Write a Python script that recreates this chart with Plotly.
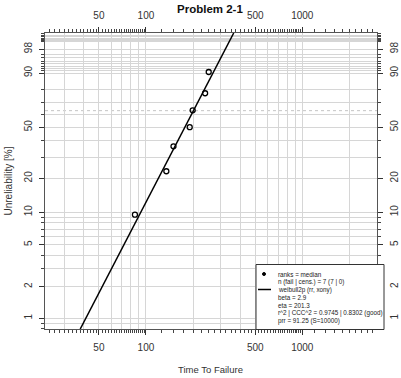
import numpy as np
import plotly.graph_objects as go

# ---------------- data ----------------
title = "Problem 2-1"
fail_time = [85, 135, 150, 190.5, 199, 239, 252]
median_rank_pct = [9.5, 23.0, 36.5, 50.0, 63.5, 77.0, 90.5]
beta = 2.9
eta = 201.3
ref_pct = 63.21  # characteristic-life reference line

x_lim = [22.6, 3006]
y_lim_pct = [0.79, 99.625]

x_tick_vals = [50, 100, 500, 1000]
x_tick_text = ["50", "100", "500", "1000"]
x_grid_vals = [30, 40, 50, 60, 70, 80, 90, 100, 200, 300, 400, 500, 600, 700, 800, 900, 1000, 2000]
x_minor_ticks = (list(range(24, 50, 2)) + [52.5 + 2.5 * i for i in range(19)] +
                 list(range(125, 500, 25)) + list(range(525, 1000, 25)) + list(range(1200, 3000, 200)))

y_tick_pct = [1, 2, 5, 10, 20, 50, 90, 98]
y_tick_text = ["1", "2", "5", "10", "20", "50", "90", "98"]
y_grid_pct = ([0.8, 0.9] + list(range(1, 10)) + list(range(10, 100, 10)) + list(range(91, 100)) +
              [99.1, 99.2, 99.3, 99.4, 99.5, 99.6, 99.7, 99.8, 99.9])

legend_lines = [
    "ranks = median",
    "n (fail | cens.) = 7 (7 | 0)",
    "weibull2p (rr, xony)",
    "beta = 2.9",
    "eta = 201.3",
    "r^2 | CCC^2 = 0.9745 | 0.8302 (good)",
    "prr = 91.25 (S=10000)",
]
x_title = "Time To Failure"
y_title = "Unreliability [%]"


def wb(p):
    return np.log(-np.log(1 - np.asarray(p, dtype=float) / 100.0))


# ---------------- geometry helpers (layout only) ----------------
W, H = 401, 378
ML, MR, MT, MB = 45, 24, 33, 49
PW, PH = W - ML - MR, H - MT - MB


def px(xp):
    return (xp - ML) / PW


def py(yp):
    return (H - MB - yp) / PH


FONT = "Liberation Sans, Arial, sans-serif"
TXT = "#333333"
GRID = "#d6d6d6"

# fitted line from beta / eta across the y-range
line_pct = np.array(y_lim_pct)
line_t = eta * (-np.log(1 - line_pct / 100.0)) ** (1.0 / beta)

fig = go.Figure()
fig.add_trace(go.Scatter(x=line_t, y=wb(line_pct), mode="lines",
                         line=dict(color="black", width=1.5), hoverinfo="skip"))
fig.add_trace(go.Scatter(x=fail_time, y=wb(median_rank_pct), mode="markers",
                         marker=dict(symbol="circle-open", size=5, color="black",
                                     line=dict(width=1.3, color="black")), hoverinfo="skip"))
# dummy traces for overlay axes
fig.add_trace(go.Scatter(x=[None], y=[None], xaxis="x2", yaxis="y2", hoverinfo="skip"))
fig.add_trace(go.Scatter(x=[None], y=[None], xaxis="x3", yaxis="y3", hoverinfo="skip"))

xr = [np.log10(x_lim[0]), np.log10(x_lim[1])]
yr = list(wb(y_lim_pct))

tickfont = dict(family=FONT, size=10, color=TXT)

fig.update_layout(
    width=W, height=H, autosize=False,
    margin=dict(l=ML, r=MR, t=MT, b=MB, pad=0, autoexpand=False),
    paper_bgcolor="white", plot_bgcolor="white",
    showlegend=False,
    xaxis=dict(type="log", range=xr, tickmode="array", tickvals=x_grid_vals, automargin=False,
               showticklabels=False, ticks="", showgrid=True, gridcolor=GRID, gridwidth=1,
               showline=True, linecolor="#555555", linewidth=1, mirror=True, zeroline=False),
    yaxis=dict(range=yr, tickmode="array", tickvals=list(wb(y_grid_pct)), automargin=False,
               showticklabels=False, ticks="", showgrid=True, gridcolor=GRID, gridwidth=1,
               showline=True, linecolor="#555555", linewidth=1, mirror=True, zeroline=False),
    xaxis2=dict(type="log", range=xr, overlaying="x", anchor="y", side="bottom", automargin=False,
                tickmode="array", tickvals=x_tick_vals, ticktext=x_tick_text,
                ticks="outside", ticklen=5, tickcolor="#333333", tickwidth=1,
                showgrid=False, showline=False, zeroline=False, tickfont=tickfont,
                ticklabelstandoff=4,
                minor=dict(tickmode="array", tickvals=x_minor_ticks, ticks="outside",
                           ticklen=3, tickcolor="#444444", showgrid=False)),
    xaxis3=dict(type="log", range=xr, overlaying="x", anchor="y", side="top", automargin=False,
                tickmode="array", tickvals=x_tick_vals, ticktext=x_tick_text,
                ticks="outside", ticklen=5, tickcolor="#333333", tickwidth=1,
                showgrid=False, showline=False, zeroline=False, tickfont=tickfont,
                ticklabelstandoff=4,
                minor=dict(tickmode="array", tickvals=x_minor_ticks, ticks="outside",
                           ticklen=3, tickcolor="#444444", showgrid=False)),
    yaxis2=dict(range=yr, overlaying="y", anchor="x", side="left", automargin=False,
                tickmode="array", tickvals=list(wb(y_tick_pct)), ticktext=y_tick_text,
                ticks="outside", ticklen=5, tickcolor="#333333", tickwidth=1, tickangle=-90,
                showgrid=False, showline=False, zeroline=False, tickfont=tickfont,
                ticklabelstandoff=3,
                minor=dict(tickmode="array", tickvals=list(wb(y_grid_pct)), ticks="outside",
                           ticklen=3, tickcolor="#444444", showgrid=False)),
    yaxis3=dict(range=yr, overlaying="y", anchor="x", side="right", automargin=False,
                tickmode="array", tickvals=list(wb(y_tick_pct)), ticktext=y_tick_text,
                ticks="outside", ticklen=5, tickcolor="#333333", tickwidth=1, tickangle=-90,
                showgrid=False, showline=False, zeroline=False, tickfont=tickfont,
                ticklabelstandoff=3,
                minor=dict(tickmode="array", tickvals=list(wb(y_grid_pct)), ticks="outside",
                           ticklen=3, tickcolor="#444444", showgrid=False)),
)

shapes = [
    dict(type="line", xref="paper", yref="y", x0=0, x1=1, y0=float(wb(ref_pct)), y1=float(wb(ref_pct)),
         line=dict(color="#c4c4c4", width=1, dash="dot"), layer="below"),
    # legend box
    dict(type="rect", xref="paper", yref="paper", x0=px(256), x1=px(384), y0=py(329.5), y1=py(264.5),
         fillcolor="white", line=dict(color="#333333", width=1), layer="above"),
    dict(type="circle", xref="paper", yref="paper", x0=px(262.5), x1=px(265.5), y0=py(275.5), y1=py(272.5),
         fillcolor="black", line=dict(color="black", width=1), layer="above"),
    dict(type="line", xref="paper", yref="paper", x0=px(258), x1=px(271), y0=py(289.5), y1=py(289.5),
         line=dict(color="black", width=1.5), layer="above"),
]
fig.update_layout(shapes=shapes)

ann = []
line_y = [274, 281.8, 289.6, 297.5, 305.4, 313.3, 321.2]
for txt, yy in zip(legend_lines, line_y):
    ann.append(dict(text=txt, xref="paper", yref="paper", x=px(276), y=py(yy),
                    xanchor="left", yanchor="middle", showarrow=False,
                    font=dict(family=FONT, size=6.3, color="#222222")))
ann.append(dict(text="<b>" + title + "</b>", xref="paper", yref="paper", x=px(209.5), y=py(8.5),
                xanchor="center", yanchor="middle", showarrow=False,
                font=dict(family=FONT, size=11.5, color="#111111")))
ann.append(dict(text=x_title, xref="paper", yref="paper", x=px(210), y=py(369),
                xanchor="center", yanchor="middle", showarrow=False,
                font=dict(family=FONT, size=9.5, color=TXT)))
ann.append(dict(text=y_title, xref="paper", yref="paper", x=px(7.5), y=py(181),
                xanchor="center", yanchor="middle", showarrow=False, textangle=-90,
                font=dict(family=FONT, size=10, color=TXT)))
fig.update_layout(annotations=ann)

fig.write_html(
    "out.html",
    config={"displayModeBar": False, "staticPlot": True},
    post_script="document.body.style.margin='0';document.body.style.overflow='hidden';",
)
